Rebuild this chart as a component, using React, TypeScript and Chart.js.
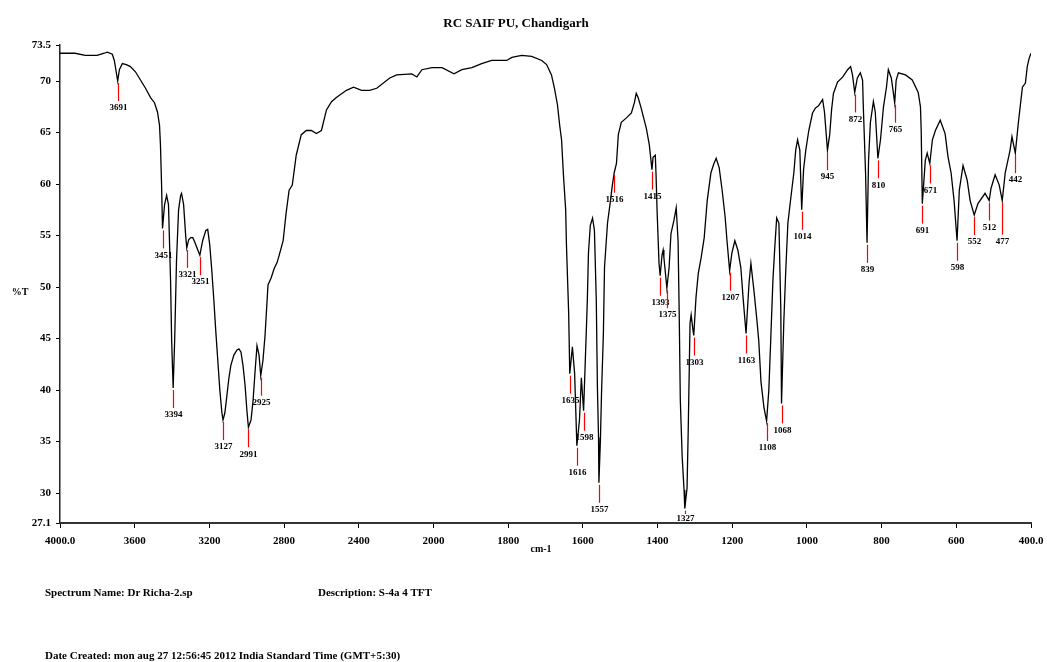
import React, { useEffect, useRef } from "react";
import { Chart, registerables } from "chart.js";

Chart.register(...registerables);

const FONT = '"Liberation Serif", "DejaVu Serif", serif';

const chartTitle = "RC SAIF PU, Chandigarh";
const xAxisLabel = "cm-1";
const yAxisLabel = "%T";
const spectrumNameText = "Spectrum Name: Dr Richa-2.sp";
const descriptionText = "Description: S-4a 4 TFT";
const dateText = "Date Created: mon aug 27 12:56:45 2012 India Standard Time (GMT+5:30)";

const xTickWavenumbers = [4000, 3600, 3200, 2800, 2400, 2000, 1800, 1600, 1400, 1200, 1000, 800, 600, 400];
const yTickValues = [27.1, 30, 35, 40, 45, 50, 55, 60, 65, 70, 73.5];

// [wavenumber cm-1, %T]
const spectrum4000to2000: [number, number][] = [
  [4000, 72.7], [3919, 72.7], [3865, 72.5], [3801, 72.5], [3763, 72.7], [3747, 72.8], [3720, 72.6], [3709, 72.0],
  [3691, 70.0], [3682, 71.1], [3666, 71.7], [3645, 71.6], [3623, 71.4], [3596, 70.9], [3569, 70.1], [3542, 69.3],
  [3515, 68.4], [3494, 67.9], [3478, 67.0], [3467, 65.7], [3462, 63.8], [3456, 59.9], [3451, 55.7], [3440, 58.0],
  [3429, 58.9], [3419, 58.0], [3408, 50.7], [3402, 44.8], [3394, 40.2], [3386, 44.8], [3376, 52.6], [3365, 57.5],
  [3354, 58.9], [3349, 59.1], [3338, 58.0], [3327, 55.0], [3321, 53.8], [3311, 54.6], [3300, 54.8], [3289, 54.8],
  [3279, 54.4], [3262, 53.6], [3251, 53.1], [3236, 54.5], [3219, 55.5], [3209, 55.6], [3198, 54.1], [3187, 51.6],
  [3176, 48.7], [3166, 45.8], [3155, 42.9], [3144, 40.0], [3133, 37.8], [3127, 37.1], [3117, 37.8], [3106, 39.5],
  [3096, 41.1], [3085, 42.4], [3069, 43.4], [3052, 43.9], [3042, 44.0], [3031, 43.7], [3020, 42.4], [3009, 40.5],
  [2999, 38.0], [2991, 36.4], [2977, 37.1], [2966, 39.0], [2955, 41.9], [2945, 44.3], [2934, 43.4], [2925, 41.4],
  [2913, 42.9], [2902, 45.3], [2891, 48.7], [2886, 50.2], [2869, 50.9], [2853, 51.8], [2837, 52.4], [2826, 53.1],
  [2805, 54.5], [2789, 57.2], [2773, 59.4], [2756, 59.9], [2735, 62.8], [2708, 64.8], [2681, 65.2], [2654, 65.2],
  [2627, 64.9], [2600, 65.2], [2573, 67.2], [2546, 68.0], [2520, 68.4], [2466, 69.1], [2428, 69.4], [2385, 69.1],
  [2342, 69.1], [2304, 69.3], [2234, 70.3], [2197, 70.6], [2116, 70.7], [2089, 70.4], [2062, 71.1], [2008, 71.3],
];

const spectrum2000to1200: [number, number][] = [
  [1977, 71.3], [1945, 70.7], [1924, 71.1], [1897, 71.3], [1871, 71.7], [1844, 72.0], [1804, 72.0], [1790, 72.3],
  [1764, 72.5], [1737, 72.4], [1710, 72.0], [1697, 71.6], [1684, 70.6], [1676, 69.3], [1668, 67.7], [1662, 65.7],
  [1657, 64.3], [1652, 60.9], [1646, 57.5], [1644, 54.2], [1638, 47.5], [1635, 41.6], [1628, 44.2], [1622, 41.6],
  [1616, 34.6], [1609, 37.1], [1604, 41.2], [1598, 38.0], [1590, 46.5], [1588, 48.7], [1585, 53.3], [1580, 56.0],
  [1574, 56.7], [1569, 55.5], [1564, 48.7], [1561, 40.3], [1558, 35.4], [1557, 31.0], [1553, 35.1], [1550, 39.7],
  [1545, 45.5], [1542, 51.9], [1534, 56.2], [1526, 58.4], [1521, 59.9], [1516, 61.1], [1510, 62.0], [1505, 64.8],
  [1497, 66.0], [1484, 66.4], [1470, 66.9], [1462, 67.9], [1457, 68.8], [1452, 68.4], [1444, 67.4], [1430, 65.4],
  [1422, 63.8], [1415, 61.4], [1412, 62.6], [1406, 62.8], [1404, 60.9], [1401, 57.2], [1396, 52.3], [1393, 51.1],
  [1388, 53.1], [1385, 53.6], [1383, 52.9], [1375, 49.9], [1369, 51.9], [1364, 55.2], [1356, 56.5], [1350, 57.7],
  [1345, 54.5], [1342, 47.5], [1339, 39.0], [1334, 33.5], [1329, 30.3], [1327, 28.5], [1321, 30.5], [1318, 35.8],
  [1315, 42.2], [1313, 46.5], [1310, 47.3], [1305, 45.8], [1303, 45.3], [1297, 49.0], [1291, 51.3], [1283, 52.9],
  [1275, 54.8], [1267, 58.4], [1257, 61.1], [1249, 62.0], [1243, 62.5], [1235, 61.6], [1227, 59.4], [1219, 56.8],
  [1214, 54.5], [1207, 51.6], [1201, 53.3],
];

const spectrum1200to400: [number, number][] = [
  [1193, 54.5], [1185, 53.6], [1177, 51.9], [1171, 49.0], [1163, 45.5], [1155, 50.4], [1150, 52.3], [1142, 49.7],
  [1134, 46.8], [1129, 44.8], [1123, 40.8], [1115, 38.3], [1108, 37.0], [1102, 40.0], [1097, 44.8], [1091, 50.7],
  [1086, 53.9], [1081, 56.7], [1075, 56.2], [1070, 48.0], [1068, 38.7], [1062, 46.5], [1057, 51.3], [1051, 56.2],
  [1043, 58.7], [1035, 61.1], [1030, 63.3], [1025, 64.3], [1019, 63.3], [1014, 57.5], [1009, 61.4], [1003, 63.3],
  [995, 65.2], [985, 66.9], [977, 67.4], [969, 67.6], [958, 68.2], [953, 67.0], [945, 63.3], [939, 64.8],
  [934, 67.2], [929, 68.8], [918, 69.9], [904, 70.4], [891, 71.1], [883, 71.4], [878, 70.6], [872, 68.9],
  [865, 70.3], [857, 70.8], [851, 70.1], [849, 67.5], [846, 64.3], [843, 61.1], [839, 54.3], [835, 62.3],
  [830, 66.0], [822, 68.0], [817, 67.0], [810, 62.5], [803, 64.3], [795, 67.5], [787, 69.4], [782, 71.1],
  [774, 70.3], [765, 67.9], [761, 70.1], [755, 70.8], [736, 70.6], [718, 70.1], [702, 68.9], [696, 67.5],
  [694, 65.2], [691, 58.1], [683, 62.3], [678, 63.0], [671, 62.0], [664, 64.3], [656, 65.2], [643, 66.2],
  [630, 64.9], [622, 62.6], [614, 61.1], [606, 58.4], [598, 54.5], [592, 59.4], [582, 61.8], [571, 60.4],
  [563, 58.4], [552, 57.0], [542, 58.1], [523, 59.1], [512, 58.4], [507, 59.6], [496, 60.9], [485, 59.9],
  [477, 58.4], [469, 61.1], [456, 63.3], [451, 64.6], [442, 63.0], [434, 65.9], [429, 67.5], [423, 69.4],
  [415, 69.8], [410, 71.4], [405, 72.2], [400, 72.7],
];

const peakWavenumbers = [
  3691, 3451, 3394, 3321, 3251, 3127, 2991, 2925, 1635, 1616, 1598, 1557, 1516, 1415, 1393, 1375, 1327, 1303,
  1207, 1163, 1108, 1068, 1014, 945, 872, 839, 810, 765, 691, 671, 598, 552, 512, 477, 442,
];
const peakTransmittance = [
  70.0, 55.7, 40.2, 53.8, 53.1, 37.1, 36.4, 41.4, 41.6, 34.6, 38.0, 31.0, 61.1, 61.4, 51.1, 49.9, 28.5, 45.3,
  51.6, 45.5, 37.0, 38.7, 57.5, 63.3, 68.9, 54.3, 62.5, 67.9, 58.1, 62.0, 54.5, 57.0, 58.4, 58.4, 63.0,
];

// The instrument plot doubles the scale below 2000 cm-1
const toAxis = (wn: number) => (wn >= 2000 ? 2000 + (wn - 2000) / 2 : wn);
const fromAxis = (u: number) => (u >= 2000 ? 2000 + (u - 2000) * 2 : u);

// leader styling (pixels)
const LEADER = 18;
const LONG_LEADER_PEAKS = [477];
const LONG_LEADER = 32;

const peakPlugin = {
  id: "peakMarks",
  afterDatasetsDraw(chart: any) {
    const { ctx, scales, chartArea } = chart;
    const xs = scales.x;
    const ys = scales.y;
    ctx.save();
    ctx.font = `bold 9px ${FONT}`;
    ctx.textAlign = "center";
    ctx.textBaseline = "middle";
    peakWavenumbers.forEach((wn, i) => {
      const px = Math.round(xs.getPixelForValue(toAxis(wn))) + 0.5;
      const py = ys.getPixelForValue(peakTransmittance[i]);
      const len = LONG_LEADER_PEAKS.includes(wn) ? LONG_LEADER : LEADER;
      const labelY = Math.min(py + len + 9, chartArea.bottom - 4);
      const lineEnd = Math.min(py + 2 + len, labelY - 5);
      ctx.strokeStyle = "#ff0000";
      ctx.lineWidth = 1.2;
      ctx.beginPath();
      ctx.moveTo(px, py + 2);
      ctx.lineTo(px, lineEnd);
      ctx.stroke();
      ctx.fillStyle = "#000";
      ctx.fillText(String(wn), px, labelY);
    });
    ctx.restore();
  },
};

export default function App() {
  const canvasRef = useRef<HTMLCanvasElement | null>(null);

  useEffect(() => {
    if (!canvasRef.current) return;
    const points = [...spectrum4000to2000, ...spectrum2000to1200, ...spectrum1200to400].map(([wn, t]) => ({
      x: toAxis(wn),
      y: t,
    }));
    const tickFont = { family: FONT, size: 11, weight: "bold" as const };
    const chart = new Chart(canvasRef.current, {
      type: "line",
      data: {
        datasets: [
          {
            data: points,
            borderColor: "#000",
            borderWidth: 1.3,
            pointRadius: 0,
            tension: 0,
            fill: false,
          },
        ],
      },
      options: {
        responsive: false,
        animation: false,
        parsing: false,
        layout: { padding: { top: 45, right: 16, left: 0, bottom: 0 } },
        plugins: { legend: { display: false }, tooltip: { enabled: false }, title: { display: false } },
        scales: {
          x: {
            type: "linear",
            min: toAxis(400),
            max: toAxis(4000),
            reverse: true,
            afterBuildTicks: (s: any) => {
              s.ticks = xTickWavenumbers.map((w) => ({ value: toAxis(w) }));
            },
            afterFit: (s: any) => {
              s.height = 139;
              s.paddingLeft = 0;
              s.paddingRight = 0;
            },
            ticks: {
              autoSkip: false,
              maxRotation: 0,
              color: "#000",
              font: tickFont,
              padding: 7,
              callback: (v: any) => {
                const w = Math.round(fromAxis(Number(v)));
                return w === 4000 || w === 400 ? w.toFixed(1) : String(w);
              },
            },
            grid: { drawOnChartArea: false, drawTicks: true, tickLength: 5, color: "#000", lineWidth: 1 },
            border: { display: true, color: "#333", width: 2 },
          },
          y: {
            type: "linear",
            min: 27.1,
            max: 73.5,
            afterBuildTicks: (s: any) => {
              s.ticks = yTickValues.map((v) => ({ value: v }));
            },
            afterFit: (s: any) => {
              s.width = 60;
              s.paddingTop = 0;
              s.paddingBottom = 0;
            },
            ticks: {
              autoSkip: false,
              color: "#000",
              font: tickFont,
              padding: 5,
              callback: (v: any) => String(v),
            },
            grid: { drawOnChartArea: false, drawTicks: true, tickLength: 4, color: "#000", lineWidth: 1 },
            border: { display: true, color: "#222", width: 1.5 },
          },
        },
      },
      plugins: [peakPlugin],
    });
    return () => chart.destroy();
  }, []);

  const textBase: React.CSSProperties = {
    position: "absolute",
    fontFamily: FONT,
    fontWeight: "bold",
    color: "#000",
    whiteSpace: "nowrap",
    lineHeight: 1,
  };

  return (
    <div style={{ position: "absolute", left: 0, top: 0, width: 1047, height: 662, background: "#fff", overflow: "hidden" }}>
      <canvas ref={canvasRef} width={1047} height={662} style={{ position: "absolute", left: 0, top: 0, width: 1047, height: 662 }} />
      <div style={{ ...textBase, left: 516, top: 22, fontSize: 13, transform: "translate(-50%, -50%)" }}>{chartTitle}</div>
      <div style={{ ...textBase, left: 20, top: 292, fontSize: 10, transform: "translate(-50%, -50%)" }}>{yAxisLabel}</div>
      <div style={{ ...textBase, left: 541, top: 549, fontSize: 10, transform: "translate(-50%, -50%)" }}>{xAxisLabel}</div>
      <div style={{ ...textBase, left: 45, top: 592, fontSize: 11, transform: "translateY(-50%)" }}>{spectrumNameText}</div>
      <div style={{ ...textBase, left: 318, top: 592, fontSize: 11, transform: "translateY(-50%)" }}>{descriptionText}</div>
      <div style={{ ...textBase, left: 45, top: 655, fontSize: 11, transform: "translateY(-50%)" }}>{dateText}</div>
    </div>
  );
}
